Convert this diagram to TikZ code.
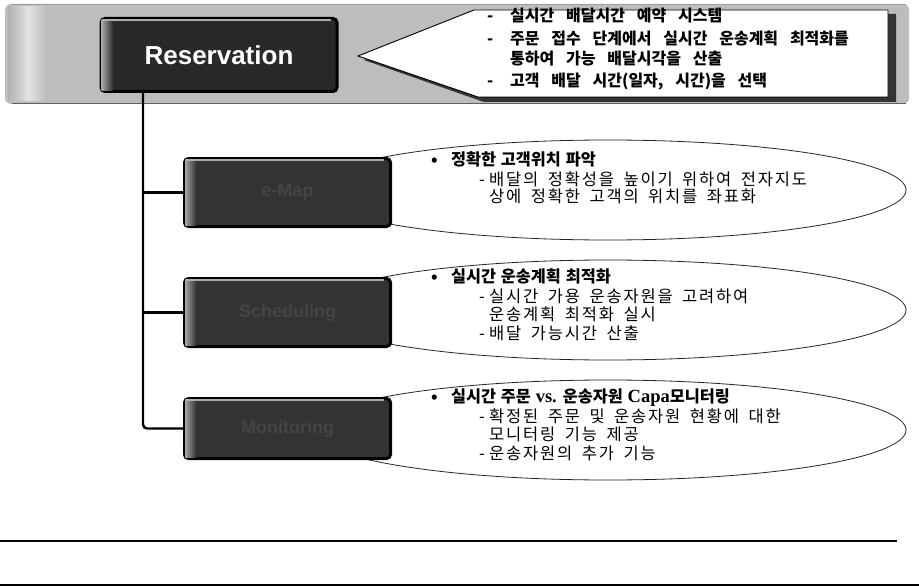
\documentclass[tikz,border=0pt]{standalone}
\usepackage{fontspec}
\setmainfont{Liberation Sans}
\newfontfamily\krcall{Noto Sans CJK KR}[LetterSpace=0]
\newfontfamily\krhead{Noto Sans CJK KR}[LetterSpace=0]
\newfontfamily\krsub{Noto Sans CJK KR}[LetterSpace=11]
\newfontfamily\serifb{Liberation Serif}
\newcommand{\callfont}{\krcall\bfseries\fontsize{16}{18}\selectfont\spaceskip 11.8pt plus 1pt\relax}
\newcommand{\headfont}{\krhead\bfseries\fontsize{16.3}{18}\selectfont\spaceskip 4.8pt plus 1pt\relax}
\newcommand{\subfont}{\krsub\fontsize{16.5}{18}\selectfont\spaceskip 9.5pt plus 1pt\relax}
\tikzset{
  darkbox/.style={draw=black, line width=3pt, rounded corners=4pt, fill=gray!40!black,
    minimum width=206pt, text=gray!54!black, font=\bfseries\fontsize{18}{20}\selectfont},
  resbox/.style={darkbox, minimum width=236pt, minimum height=73pt, fill=gray!32!black,
    text=white, font=\bfseries\fontsize{26}{28}\selectfont},
  conn/.style={line width=2.4pt, black},
  oval/.style={draw=black!85, line width=0.8pt, fill=white},
  calltext/.style={anchor=base west, inner sep=0pt, font=\callfont},
  headtext/.style={anchor=base west, inner sep=0pt, font=\headfont},
  subtext/.style={anchor=base west, inner sep=0pt, text=black, font=\subfont},
  rule/.style={line width=2.4pt, black}
}
\newcommand{\bevel}[1]{%
  \shade[left color=gray!70, right color=gray!40!black]
    ([xshift=2pt,yshift=-2.5pt]#1.north west) rectangle ([xshift=13pt,yshift=2.5pt]#1.south west);
  \draw[gray!65, line width=1.4pt] ([xshift=3pt,yshift=-3pt]#1.north west) -- ([xshift=-8pt,yshift=-3pt]#1.north east);
}
\begin{document}
\begin{tikzpicture}[x=1pt,y=-1pt]
\useasboundingbox (0,0) rectangle (919,586);
\fill[white] (0,0) rectangle (919,586);

% banner
\fill[gray!52, rounded corners=6pt] (5,4) rectangle (909,104);
\shade[left color=gray!62, right color=gray!22] (8,7) rectangle (28,101);
\shade[left color=gray!22, right color=gray!52] (28,7) rectangle (46,101);
\draw[gray!75!black, line width=1pt] (12,103.5) -- (906,103.5);
\draw[gray!75, line width=1pt] (12,5) -- (906,5);

% callout
\fill[gray!40!black] (364,60) -- (480,14) -- (896,14) -- (896,102) -- (484,102) -- cycle;
\draw[fill=white, line width=0.9pt] (358,56) -- (474,10) -- (888,10) -- (888,97) -- (478,97) -- cycle;
\node[calltext] (c1) at (487,22) {\makebox[23pt][l]{-}실시간 배달시간 예약 시스템};
\node[calltext] (c2) at (487,44.5) {\makebox[23pt][l]{-}주문 접수 단계에서 실시간 운송계획 최적화를};
\node[calltext] (c3) at (510,65) {통하여 가능 배달시각을 산출};
\node[calltext] (c4) at (487,86.5) {\makebox[23pt][l]{-}고객 배달 시간(일자, 시간)을 선택};

% Reservation box
\node[resbox] (res) at (219,55) {Reservation};
\bevel{res}

% ellipses
\draw[oval] (608,190) ellipse [x radius=298, y radius=50];
\draw[oval] (608,310) ellipse [x radius=298, y radius=50];
\draw[oval] (608,430) ellipse [x radius=298, y radius=50];

% dark boxes
\node[darkbox, minimum height=68pt] (b1) at (287.5,192.5) {e-Map};
\node[darkbox, minimum height=68pt] (b2) at (287.5,312.5) {Scheduling};
\node[darkbox, minimum height=60pt] (b3) at (287.5,428.5) {Monitoring};
\bevel{b1}
\bevel{b2}
\bevel{b3}

% connectors
\coordinate (j0) at (143,93);
\draw[conn, rounded corners=4pt] (res.south -| j0) |- (b3.west);
\draw[conn] (b1.west -| j0) -- (b1.west);
\draw[conn] (b2.west -| j0) -- (b2.west);

% ellipse texts
\node[headtext] (h1) at (431,165) {\makebox[20pt][l]{•}정확한 고객위치 파악};
\node[subtext] (s1a) at (479,185) {\makebox[10pt][l]{-}배달의 정확성을 높이기 위하여 전자지도};
\node[subtext] (s1b) at (489,202) {상에 정확한 고객의 위치를 좌표화};

\node[headtext] (h2) at (431,282) {\makebox[20pt][l]{•}실시간 운송계획 최적화};
\node[subtext] (s2a) at (479,302) {\makebox[10pt][l]{-}실시간 가용 운송자원을 고려하여};
\node[subtext] (s2b) at (489,320) {운송계획 최적화 실시};
\node[subtext] (s2c) at (479,339) {\makebox[10pt][l]{-}배달 가능시간 산출};

\node[headtext] (h3) at (431,402) {\makebox[20pt][l]{•}실시간 주문 {\serifb\fontsize{18.5}{20}\selectfont vs.} 운송자원 {\serifb\fontsize{18.5}{20}\selectfont Capa}모니터링};
\node[subtext] (s3a) at (479,422) {\makebox[10pt][l]{-}확정된 주문 및 운송자원 현황에 대한};
\node[subtext] (s3b) at (489,440) {모니터링 기능 제공};
\node[subtext] (s3c) at (479,459) {\makebox[10pt][l]{-}운송자원의 추가 기능};

% rules
\draw[rule] (0,541) -- (897,541);
\draw[rule] (0,584.8) -- (919,584.8);
\end{tikzpicture}
\end{document}
